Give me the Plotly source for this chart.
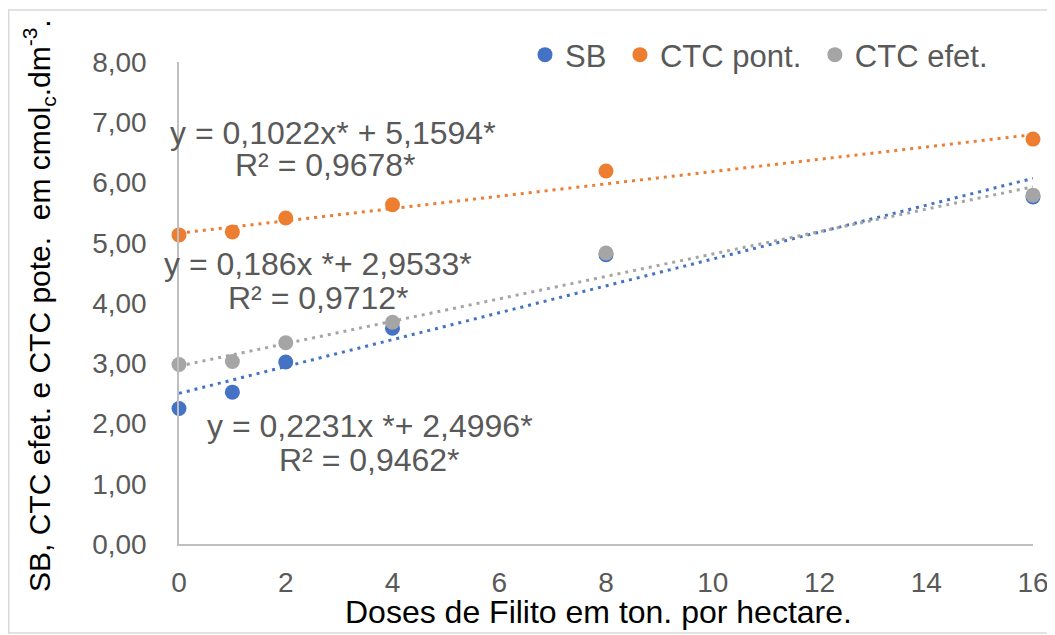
import plotly.graph_objects as go
import numpy as np

doses = [0, 1, 2, 4, 8, 16]
sb = [2.25, 2.52, 3.02, 3.58, 4.80, 5.76]
ctc_pont = [5.13, 5.18, 5.41, 5.63, 6.19, 6.72]
ctc_efet = [2.98, 3.03, 3.34, 3.68, 4.83, 5.79]

series_names = ["SB", "CTC pont.", "CTC efet."]
colors = ["#4472C4", "#ED7D31", "#A5A5A5"]
# trend coefficients (slope, intercept) as printed on the chart
trend_slope = [0.2231, 0.1022, 0.186]
trend_intercept = [2.4996, 5.1594, 2.9533]
eq_lines = [
    ("y = 0,2231x *+ 2,4996*", "R² = 0,9462*"),
    ("y = 0,1022x* + 5,1594*", "R² = 0,9678*"),
    ("y = 0,186x *+ 2,9533*", "R² = 0,9712*"),
]
x_ticks = list(range(0, 17, 2))
y_ticks = list(range(0, 9))

OFF = 8  # page body margin
W, H = 1055 - OFF, 635 - OFF
# plot area in screen px: x 179..1033, y 62..544
L, R, T, B = 179 - OFF, W - (1033 - OFF), 62 - OFF, H - (544 - OFF)
pw, ph = W - L - R, H - T - B

def px2x(sx):
    return (sx - OFF - L) / pw

def px2y(sy):
    return (H - B - (sy - OFF)) / ph

FONT = "Liberation Sans, Arial, sans-serif"
GREY_TXT = "#595959"

fig = go.Figure()
data = [sb, ctc_pont, ctc_efet]
xt = np.array([0, 16])
for i in range(3):
    fig.add_trace(go.Scatter(
        x=xt, y=trend_slope[i] * xt + trend_intercept[i], mode="lines",
        line=dict(color=colors[i], width=3, dash="3px,5px"),
        showlegend=False, hoverinfo="skip", cliponaxis=False))
for i in range(3):
    fig.add_trace(go.Scatter(
        x=doses, y=data[i], mode="markers", name=series_names[i] + "\u00a0",
        marker=dict(color=colors[i], size=15, line=dict(width=0)),
        cliponaxis=False))

# equation annotations: ((cx1, cy1), (cx2, cy2)) screen px centers
eq_pos = [((370, 426), (369, 460)), ((333, 133), (325, 165)), ((318, 264), (318, 298))]
for (l1, l2), ((x1, y1), (x2, y2)) in zip(eq_lines, eq_pos):
    for txt, cx, cy in ((l1, x1, y1), (l2, x2, y2)):
        fig.add_annotation(x=px2x(cx), y=px2y(cy), xref="paper", yref="paper",
                           text=txt, showarrow=False,
                           xanchor="center", yanchor="middle",
                           font=dict(family=FONT, size=32, color=GREY_TXT))

# y-axis title
fig.add_annotation(x=px2x(39), y=px2y(306), xref="paper", yref="paper",
                   text="SB, CTC efet. e CTC pote.  em cmol<sub>c</sub>.dm<sup>-3</sup>.",
                   textangle=-90, showarrow=False, xanchor="center", yanchor="middle",
                   font=dict(family=FONT, size=30, color="#000000"))
# x-axis title
fig.add_annotation(x=px2x(598), y=px2y(612), xref="paper", yref="paper",
                   text="Doses de Filito em ton. por hectare.",
                   showarrow=False, xanchor="center", yanchor="middle",
                   font=dict(family=FONT, size=32, color="#000000"))

# outer chart border
fig.add_shape(type="rect", xref="paper", yref="paper",
              x0=px2x(8.75), x1=px2x(1053), y0=px2y(633), y1=px2y(10),
              line=dict(color="#D9D9D9", width=1.5), layer="below")

fig.update_layout(
    width=W, height=H,
    margin=dict(l=L, r=R, t=T, b=B, autoexpand=False),
    paper_bgcolor="white", plot_bgcolor="white",
    separators=",.",
    font=dict(family=FONT, size=28, color=GREY_TXT),
    showlegend=True,
    legend=dict(orientation="h", x=px2x(545 - 20), y=px2y(55), xanchor="left", yanchor="middle",
                font=dict(family=FONT, size=31, color=GREY_TXT),
                bgcolor="rgba(0,0,0,0)", itemwidth=30),
    xaxis=dict(range=[0, 16], tickvals=x_ticks, showgrid=False, zeroline=False,
               showline=True, linecolor="#BFBFBF", linewidth=1.5, automargin=False,
               ticks="", ticklabelstandoff=13,
               tickfont=dict(family=FONT, size=28, color=GREY_TXT)),
    yaxis=dict(range=[0, 8], tickvals=y_ticks, tickformat=".2f", showgrid=False,
               zeroline=False, showline=True, linecolor="#BFBFBF", linewidth=1.5,
               automargin=False, ticks="", ticklabelstandoff=25,
               tickfont=dict(family=FONT, size=28, color=GREY_TXT)),
)

fig.write_html("out.html")
